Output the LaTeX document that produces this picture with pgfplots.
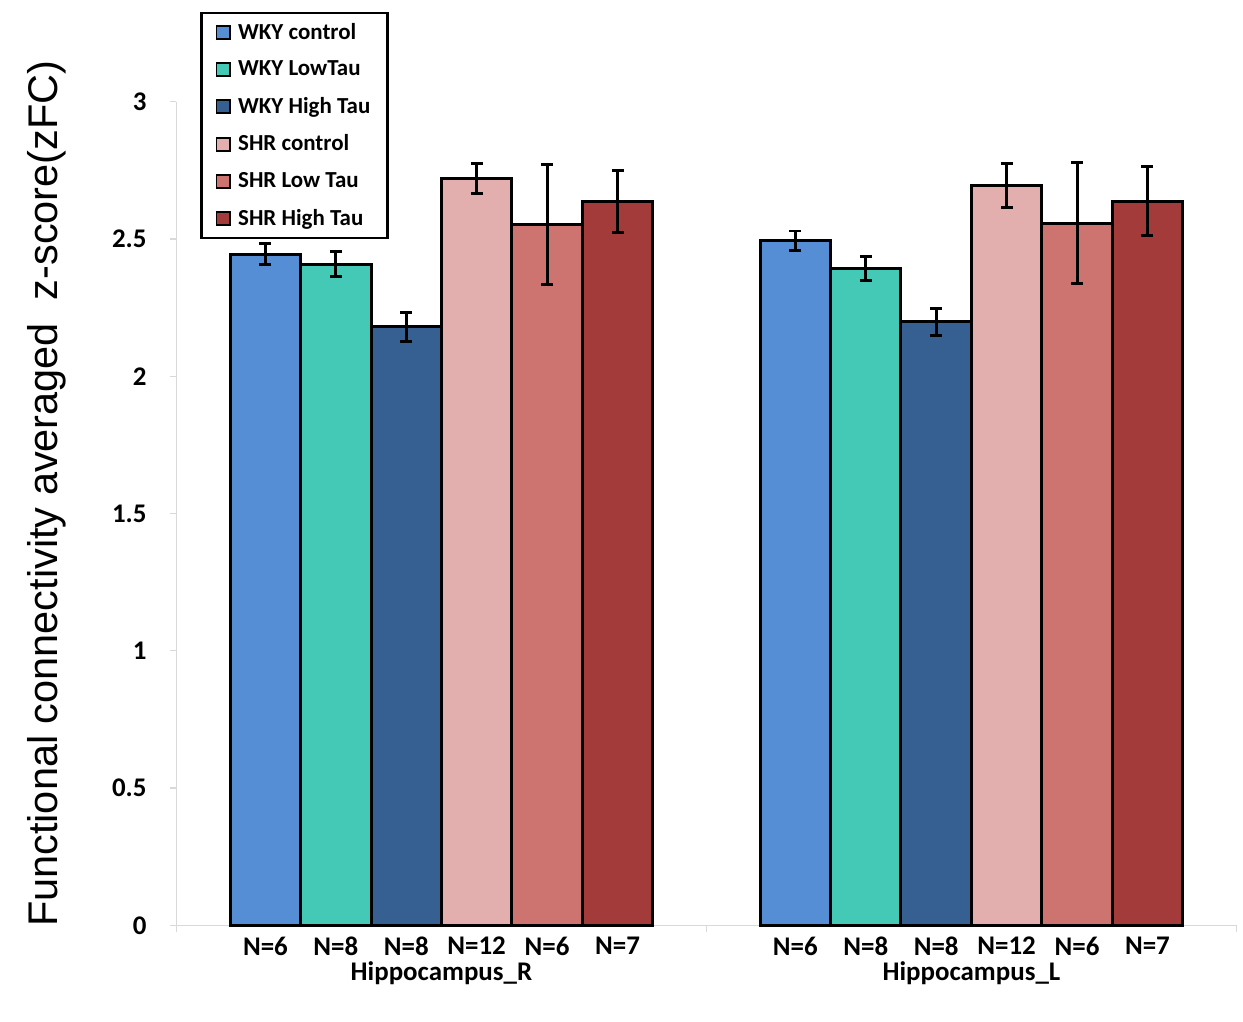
\documentclass[border=0pt]{standalone}
\usepackage{fontspec}
\setmainfont{Carlito}
\newfontfamily\arialfont{Liberation Sans}
\usepackage{pgfplots}
\pgfplotsset{compat=1.18}

\definecolor{wkyc}{HTML}{558ED5}
\definecolor{wkyl}{HTML}{43C9B5}
\definecolor{wkyh}{HTML}{376092}
\definecolor{shrc}{HTML}{E3AFAE}
\definecolor{shrl}{HTML}{CD7370}
\definecolor{shrh}{HTML}{A33B3A}
\definecolor{axgray}{HTML}{D9D9D9}

\pgfplotsset{
  ebar/.style={
    error bars/.cd, y dir=both, y explicit,
    error bar style={line width=1.5pt, black},
    error mark options={rotate=90, mark size=3pt, line width=1.5pt, black}},
}

\begin{document}
\begin{tikzpicture}
\begin{axis}[
  scale only axis,
  width=531.5pt, height=413pt,
  xmin=-0.5, xmax=1.5,
  ymin=0, ymax=3,
  clip=false,
  axis lines*=left,
  axis line style={draw=axgray, line width=0.7pt},
  tick style={draw=axgray, line width=0.7pt},
  tick align=outside,
  major tick length=3.5pt,
  ytick={0,0.5,1,1.5,2,2.5,3},
  yticklabels={0,0.5,1,1.5,2,2.5,3},
  yticklabel style={font=\fontsize{13.5}{16}\selectfont\bfseries, xshift=-8pt},
  xtick={-0.5,0.5,1.5},
  xticklabels={,,},
  extra x ticks={-0.3322,-0.1993,-0.0664,0.0664,0.1993,0.3322,
                 0.6678,0.8007,0.9336,1.0664,1.1993,1.3322},
  extra x tick labels={N=6,N=8,N=8,N=12,N=6,N=7,N=6,N=8,N=8,N=12,N=6,N=7},
  extra x tick style={major tick length=0pt,
    xticklabel style={font=\fontsize{13.5}{16}\selectfont\bfseries, yshift=-2.5pt}},
  ylabel={\arialfont Functional connectivity averaged\hspace{0.55em}z-score(zFC)},
  ylabel style={font=\fontsize{20.8}{24}\selectfont, at={(axis description cs:-0.1225,0.524)}, anchor=center},
  ybar=0pt,
  bar width=0.1329,
  every axis plot/.append style={draw=black, line width=1.5pt},
  legend style={at={(rel axis cs:0.0226,1.109)}, anchor=north west,
    draw=black, line width=1.25pt,
    font=\fontsize{11.5}{13}\selectfont\bfseries,
    row sep=6.3pt, inner xsep=7pt, inner ysep=3.5pt,
    nodes={inner sep=1.5pt}},
  legend cell align=left,
  legend image code/.code={\draw[#1, line width=0.9pt, draw=black] (0pt,-3.3pt) rectangle (6.6pt,3.3pt);
    \path (8.6pt,0pt);},
]
\addplot[fill=wkyc, ebar] coordinates {(0,2.445) +- (0,0.037) (1,2.493) +- (0,0.036)};
\addlegendentry{WKY control}
\addplot[fill=wkyl, ebar] coordinates {(0,2.408) +- (0,0.045) (1,2.393) +- (0,0.044)};
\addlegendentry{WKY LowTau}
\addplot[fill=wkyh, ebar] coordinates {(0,2.180) +- (0,0.053) (1,2.198) +- (0,0.050)};
\addlegendentry{WKY High Tau}
\addplot[fill=shrc, ebar] coordinates {(0,2.720) +- (0,0.055) (1,2.695) +- (0,0.080)};
\addlegendentry{SHR control}
\addplot[fill=shrl, ebar] coordinates {(0,2.553) +- (0,0.220) (1,2.557) +- (0,0.220)};
\addlegendentry{SHR Low Tau}
\addplot[fill=shrh, ebar] coordinates {(0,2.636) +- (0,0.112) (1,2.638) +- (0,0.126)};
\addlegendentry{SHR High Tau}
\node[font=\fontsize{13.5}{16}\selectfont\bfseries, anchor=center, yshift=-24pt] at (axis cs:0,0) {Hippocampus\_R};
\node[font=\fontsize{13.5}{16}\selectfont\bfseries, anchor=center, yshift=-24pt] at (axis cs:1,0) {Hippocampus\_L};
\end{axis}
\path (current axis.south west) ++(-88.5pt,-48pt);
\path (current axis.north east) ++(1.5pt,51pt);
\end{tikzpicture}
\end{document}
